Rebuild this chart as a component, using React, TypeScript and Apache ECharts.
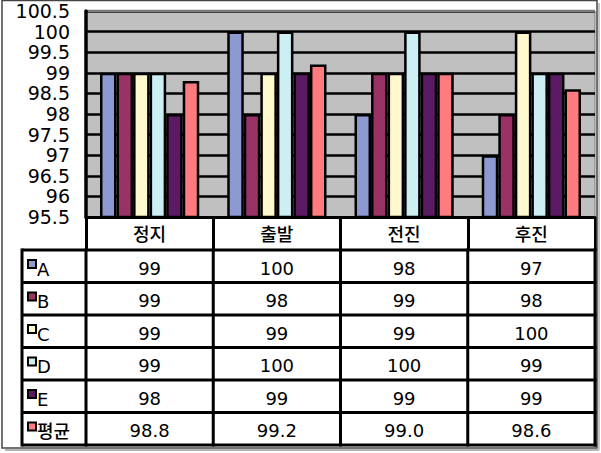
import React, { useEffect, useRef } from 'react';
import * as echarts from 'echarts';

const categories = ['정지', '출발', '전진', '후진'];
const seriesNames = ['A', 'B', 'C', 'D', 'E', '평균'];
const valuesA = [99, 100, 98, 97];
const valuesB = [99, 98, 99, 98];
const valuesC = [99, 99, 99, 100];
const valuesD = [99, 100, 100, 99];
const valuesE = [98, 99, 99, 99];
const valuesAvg = [98.8, 99.2, 99.0, 98.6];
const seriesData = [valuesA, valuesB, valuesC, valuesD, valuesE, valuesAvg];
const colors = ['#8d99d1', '#993366', '#fff8cc', '#cbeff3', '#5b1a63', '#ff7b80'];
const yMin = 95.5;
const yMax = 100.5;
const yStep = 0.5;

const FONT = "'DejaVu Sans', 'Noto Sans CJK KR', sans-serif";

export default function App() {
  const ref = useRef<HTMLDivElement>(null);
  useEffect(() => {
    document.body.style.margin = '0';
    const chart = echarts.init(ref.current!, null, { renderer: 'svg', width: 601, height: 453 });
    const gridTop = 11;
    const gridBottomPx = 217;
    chart.setOption({
      animation: false,
      backgroundColor: '#ffffff',
      grid: {
        left: 86,
        top: gridTop,
        right: 6,
        bottom: 453 - gridBottomPx,
        show: true,
        backgroundColor: '#c0c0c0',
        borderColor: '#7a7a7a',
        borderWidth: 1,
      },
      xAxis: {
        type: 'category',
        data: categories,
        axisLine: { lineStyle: { color: '#000', width: 3 } },
        axisTick: { show: true, length: 33, lineStyle: { color: '#000', width: 3 } },
        axisLabel: { margin: 17, verticalAlign: 'middle', fontSize: 18, fontWeight: 500, color: '#000', fontFamily: FONT },
        splitLine: { show: false },
      },
      yAxis: {
        type: 'value',
        min: yMin,
        max: yMax,
        interval: yStep,
        axisLine: { show: true, lineStyle: { color: '#000', width: 3.5 } },
        axisTick: { show: false },
        axisLabel: { fontSize: 19, margin: 16, color: '#000', fontFamily: FONT },
        splitLine: { show: true, lineStyle: { color: '#000', width: 2.5 } },
      },
      series: seriesNames.map((n, i) => ({
        type: 'bar',
        name: n,
        data: seriesData[i],
        barGap: '0%',
        barCategoryGap: '22%',
        itemStyle: { color: colors[i], borderColor: '#000', borderWidth: 2.5 },
      })),
    });

    const c0 = chart.convertToPixel({ xAxisIndex: 0 }, 0) as number;
    const c1 = chart.convertToPixel({ xAxisIndex: 0 }, 1) as number;
    const step = c1 - c0;
    const colLeft = c0 - step / 2;
    const colRight = colLeft + step * categories.length;
    const legendLeft = 22;
    const tableTop = 250;
    const tableBottom = 445;
    const rowH = (tableBottom - tableTop) / seriesNames.length;
    const topPx = chart.convertToPixel({ yAxisIndex: 0 }, yMax) as number;

    const els: any[] = [];
    // outer frame
    els.push({ type: 'line', shape: { x1: 5, y1: 450, x2: 599, y2: 450 }, style: { stroke: '#b5b5b5', lineWidth: 2 }, z: 100 });
    els.push({ type: 'line', shape: { x1: 599, y1: 3, x2: 599, y2: 450 }, style: { stroke: '#c8c8c8', lineWidth: 2 }, z: 100 });
    els.push({ type: 'rect', shape: { x: 2, y: 0.5, width: 595, height: 447.5 }, style: { fill: 'none', stroke: '#444', lineWidth: 1.5 }, z: 100 });
    // top gray edge of plot
    els.push({ type: 'line', shape: { x1: colLeft + 2, y1: topPx, x2: colRight, y2: topPx }, style: { stroke: '#7a7a7a', lineWidth: 2.6 }, z: 100 });
    // horizontal table lines
    for (let r = 0; r <= seriesNames.length; r++) {
      const y = tableTop + r * rowH;
      els.push({ type: 'line', shape: { x1: legendLeft, y1: y, x2: colRight + 1.5, y2: y }, style: { stroke: '#000', lineWidth: 3 }, z: 100 });
    }
    // vertical table lines
    const vx = [legendLeft];
    for (let c = 0; c <= categories.length; c++) vx.push(colLeft + c * step);
    vx.forEach((x) => {
      els.push({ type: 'line', shape: { x1: x, y1: tableTop - 1.5, x2: x, y2: tableBottom + 1.5 }, style: { stroke: '#000', lineWidth: 3 }, z: 100 });
    });
    // rows
    seriesNames.forEach((name, r) => {
      const yTop = tableTop + r * rowH;
      const yMid = yTop + rowH / 2 + 2;
      els.push({ type: 'rect', shape: { x: 28, y: yTop + 10, width: 8, height: 8 }, style: { fill: colors[r], stroke: '#000', lineWidth: 2 }, z: 101 });
      els.push({ type: 'text', x: 37, y: yMid + 1, style: { text: name, fontSize: 18, fontWeight: 500, fontFamily: FONT, fill: '#000', textAlign: 'left', textVerticalAlign: 'middle' }, z: 101 });
      seriesData[r].forEach((v, c) => {
        const label = r === seriesNames.length - 1 ? v.toFixed(1) : String(v);
        els.push({ type: 'text', x: colLeft + (c + 0.5) * step, y: yMid, style: { text: label, fontSize: 18, fontFamily: FONT, fill: '#000', textAlign: 'center', textVerticalAlign: 'middle' }, z: 101 });
      });
    });
    chart.setOption({ graphic: { elements: els } });
    return () => chart.dispose();
  }, []);
  return <div ref={ref} style={{ position: 'absolute', left: 0, top: 0, width: 601, height: 453 }} />;
}
